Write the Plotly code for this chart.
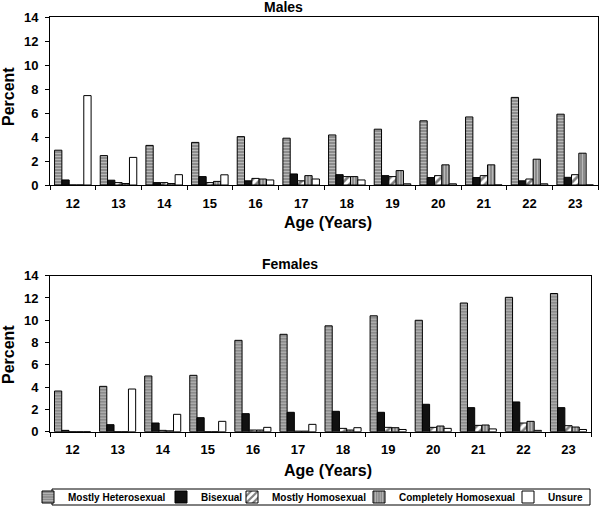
import plotly.graph_objects as go

ages = ["12", "13", "14", "15", "16", "17", "18", "19", "20", "21", "22", "23"]
series_names = ["Mostly Heterosexual", "Bisexual", "Mostly Homosexual",
                "Completely Homosexual", "Unsure"]

males_mostly_het = [2.9, 2.45, 3.3, 3.55, 4.03, 3.9, 4.17, 4.65, 5.35, 5.67, 7.3, 5.9]
males_bisexual = [0.42, 0.4, 0.2, 0.7, 0.35, 0.92, 0.86, 0.78, 0.62, 0.62, 0.35, 0.64]
males_mostly_homo = [0.0, 0.2, 0.2, 0.2, 0.55, 0.35, 0.7, 0.7, 0.78, 0.78, 0.5, 0.86]
males_complete_homo = [0.0, 0.12, 0.12, 0.3, 0.5, 0.78, 0.7, 1.2, 1.68, 1.68, 2.15, 2.65]
males_unsure = [7.45, 2.3, 0.86, 0.85, 0.42, 0.5, 0.42, 0.1, 0.1, 0.0, 0.1, 0.0]

females_mostly_het = [3.65, 4.07, 5.0, 5.06, 8.2, 8.74, 9.5, 10.4, 10.0, 11.55, 12.06, 12.4]
females_bisexual = [0.12, 0.63, 0.78, 1.26, 1.62, 1.74, 1.83, 1.74, 2.46, 2.16, 2.67, 2.16]
females_mostly_homo = [0.0, 0.0, 0.12, 0.0, 0.15, 0.05, 0.3, 0.39, 0.39, 0.57, 0.78, 0.54]
females_complete_homo = [0.0, 0.0, 0.08, 0.0, 0.15, 0.05, 0.15, 0.36, 0.51, 0.6, 0.93, 0.42]
females_unsure = [0.0, 3.83, 1.56, 0.93, 0.39, 0.66, 0.36, 0.2, 0.3, 0.25, 0.12, 0.2]

males = [males_mostly_het, males_bisexual, males_mostly_homo, males_complete_homo, males_unsure]
females = [females_mostly_het, females_bisexual, females_mostly_homo, females_complete_homo, females_unsure]

styles = [
    dict(color="#9a9a9a", pattern=dict(shape="-", fgcolor="#e6e6e6", bgcolor="#8c8c8c", size=3, solidity=0.35, fillmode="overlay")),
    dict(color="#111111"),
    dict(color="#ffffff", pattern=dict(shape="/", fgcolor="#000000", bgcolor="#ffffff", size=6, solidity=0.45, fillmode="overlay")),
    dict(color="#9a9a9a", pattern=dict(shape="|", fgcolor="#e6e6e6", bgcolor="#8c8c8c", size=3, solidity=0.35, fillmode="overlay")),
    dict(color="#ffffff"),
]

W, H = 600, 506
def px(x):
    return x / W
def py(y):
    return 1 - y / H

legend_ids = ["legend", "legend2", "legend3", "legend4", "legend5"]
legend_text_x = [68, 201, 272, 399, 548]

fig = go.Figure()
for i, name in enumerate(series_names):
    m = dict(styles[i])
    m["line"] = dict(color="#000000", width=1)
    fig.add_trace(go.Bar(x=ages, y=males[i], name=name, marker=m,
                         xaxis="x", yaxis="y", legendgroup=name, showlegend=True,
                         legend=legend_ids[i]))
for i, name in enumerate(series_names):
    m = dict(styles[i])
    m["line"] = dict(color="#000000", width=1)
    fig.add_trace(go.Bar(x=ages, y=females[i], name=name, marker=m,
                         xaxis="x2", yaxis="y2", legendgroup=name, showlegend=False,
                         legend=legend_ids[i]))

tickfont = dict(family="Liberation Sans, Arial, sans-serif", size=13, color="#000", weight="bold")
axis_common = dict(showline=True, linecolor="#000", linewidth=1, mirror=True,
                   showgrid=False, zeroline=False, tickfont=tickfont,
                   ticks="outside", tickcolor="#000", ticklen=4)

legend_font = dict(family="Liberation Sans, Arial, sans-serif", size=10, color="#000", weight="bold")
legends = {}
for i, lid in enumerate(legend_ids):
    legends[lid] = dict(orientation="h", x=px(legend_text_x[i] - 40), xanchor="left",
                        y=py(497), yanchor="middle", borderwidth=0, itemwidth=30,
                        bgcolor="rgba(0,0,0,0)", font=legend_font)

fig.update_layout(
    width=W, height=H,
    margin=dict(l=0, r=0, t=0, b=0, autoexpand=False),
    paper_bgcolor="white", plot_bgcolor="white",
    barmode="group", bargap=0.2, bargroupgap=0,
    font=dict(family="Liberation Sans, Arial, sans-serif", color="#000"),
    xaxis=dict(domain=[px(50), px(598)], anchor="y", type="category",
               tickson="boundaries", ticklabelstandoff=6, **axis_common),
    yaxis=dict(domain=[py(185), py(17)], anchor="x", range=[0, 14], dtick=2,
               ticklabelstandoff=4, **axis_common),
    xaxis2=dict(domain=[px(50), px(591)], anchor="y2", type="category",
                tickson="boundaries", ticklabelstandoff=6, **axis_common),
    yaxis2=dict(domain=[py(431.7), py(275.7)], anchor="x2", range=[0, 14], dtick=2,
                ticklabelstandoff=4, **axis_common),
    **legends,
)

fig.add_shape(type="rect", xref="paper", yref="paper",
              x0=px(52), x1=px(590), y0=py(505), y1=py(489),
              line=dict(color="#000", width=1), fillcolor="rgba(0,0,0,0)")

afont_big = dict(family="Liberation Sans, Arial, sans-serif", size=16, color="#000", weight="bold")
afont_title = dict(family="Liberation Sans, Arial, sans-serif", size=14, color="#000", weight="bold")
annotations = [
    dict(text="Males", x=px(283), y=py(7), font=afont_title),
    dict(text="Females", x=px(290), y=py(264), font=afont_title),
    dict(text="Age (Years)", x=px(328), y=py(222), font=afont_big),
    dict(text="Age (Years)", x=px(328), y=py(470), font=afont_big),
    dict(text="Percent", x=px(8), y=py(97), font=afont_big, textangle=-90),
    dict(text="Percent", x=px(8), y=py(355), font=afont_big, textangle=-90),
]
for a in annotations:
    a.update(xref="paper", yref="paper", showarrow=False, xanchor="center", yanchor="middle")
fig.update_layout(annotations=annotations)

fig.write_html("out.html", config={"displayModeBar": False},
               post_script="document.body.style.margin='0';document.body.style.overflow='hidden';")
